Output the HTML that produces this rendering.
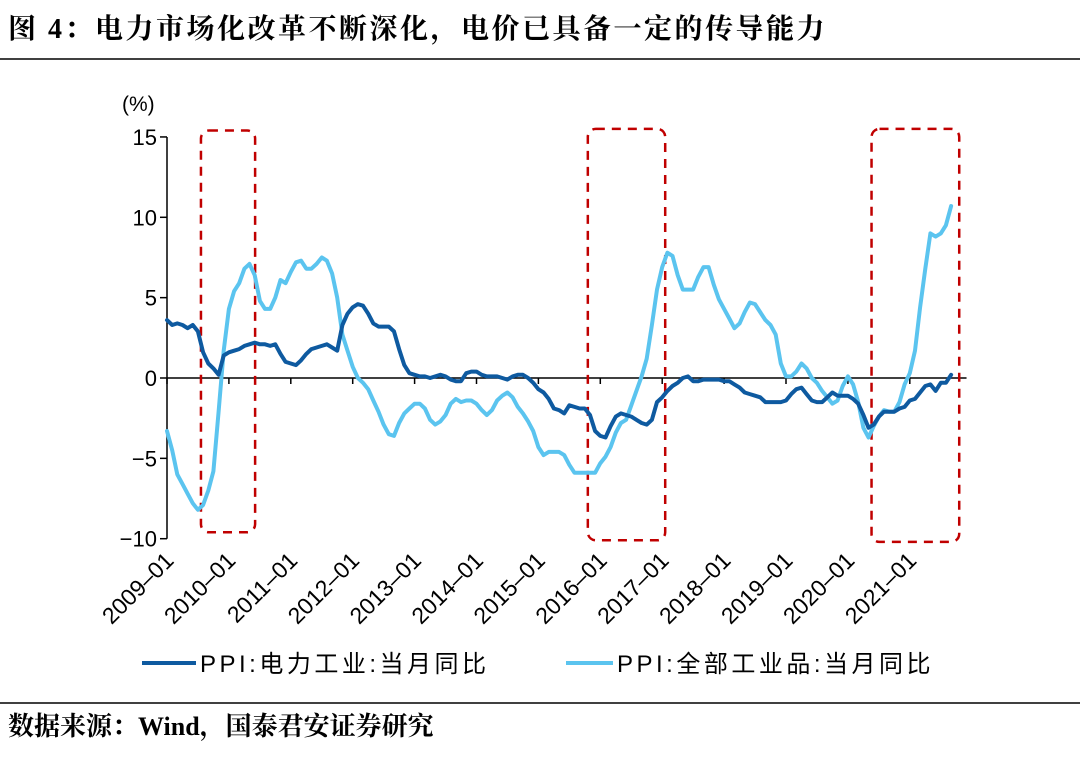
<!DOCTYPE html>
<html><head><meta charset="utf-8"><style>
body{margin:0;background:#fff;width:1080px;height:757px;overflow:hidden}
svg{display:block}
</style></head><body>
<svg id="chart" width="1080" height="757" xmlns="http://www.w3.org/2000/svg">
<text x="8" y="38" font-family="'Liberation Serif','Noto Serif CJK SC',serif" font-weight="bold" font-size="28" letter-spacing="2.5">图 4：电力市场化改革不断深化，电价已具备一定的传导能力</text>
<line x1="0" y1="59" x2="1080" y2="59" stroke="#000" stroke-width="1.5"/>
<text x="122" y="111" font-family="'Liberation Sans','Noto Sans CJK SC',sans-serif" font-size="21">(%)</text>
<g id="axes"></g>
<g id="boxes"></g>
<g id="series"></g>
<g>
<line x1="142" y1="663" x2="196" y2="663" stroke="#0e5aa0" stroke-width="4"/>
<text x="200" y="672" font-family="'Liberation Sans','Noto Sans CJK SC',sans-serif" font-size="24" letter-spacing="3.5">PPI:电力工业:当月同比</text>
<line x1="566" y1="663" x2="613" y2="663" stroke="#5bc4ef" stroke-width="4"/>
<text x="617" y="672" font-family="'Liberation Sans','Noto Sans CJK SC',sans-serif" font-size="24" letter-spacing="3.5">PPI:全部工业品:当月同比</text>
</g>
<line x1="0" y1="703" x2="1080" y2="703" stroke="#000" stroke-width="1.5"/>
<text x="8" y="735" font-family="'Liberation Serif','Noto Serif CJK SC',serif" font-weight="bold" font-size="26">数据来源：Wind，国泰君安证券研究</text>
</svg>
<script>
const yTicks=[15,10,5,0,-5,-10];
const xLabels=["2009-01","2010-01","2011-01","2012-01","2013-01","2014-01","2015-01","2016-01","2017-01","2018-01","2019-01","2020-01","2021-01"];
const powerPPI=[3.6,3.3,3.4,3.3,3.1,3.3,2.9,1.6,0.9,0.6,0.2,1.4,
1.6,1.7,1.8,2.0,2.1,2.2,2.1,2.1,2.0,2.1,1.5,1.0,
0.9,0.8,1.1,1.5,1.8,1.9,2.0,2.1,1.9,1.7,3.3,4.0,
4.4,4.6,4.5,4.0,3.4,3.2,3.2,3.2,2.9,1.8,0.8,0.3,
0.2,0.1,0.1,0.0,0.1,0.2,0.1,-0.1,-0.2,-0.2,0.3,0.4,
0.4,0.2,0.1,0.1,0.1,0.0,-0.1,0.1,0.2,0.2,0.0,-0.3,
-0.7,-0.9,-1.3,-1.9,-2.0,-2.2,-1.7,-1.8,-1.9,-1.9,-2.3,-3.3,
-3.6,-3.7,-3.0,-2.4,-2.2,-2.3,-2.4,-2.6,-2.8,-2.9,-2.6,-1.5,
-1.2,-0.8,-0.5,-0.3,0.0,0.1,-0.2,-0.2,-0.1,-0.1,-0.1,-0.1,
-0.2,-0.2,-0.4,-0.6,-0.9,-1.0,-1.1,-1.2,-1.5,-1.5,-1.5,-1.5,
-1.4,-1.0,-0.7,-0.6,-1.0,-1.4,-1.5,-1.5,-1.2,-0.9,-1.1,-1.1,
-1.1,-1.3,-1.6,-2.3,-3.1,-2.9,-2.4,-2.1,-2.1,-2.1,-1.9,-1.8,
-1.4,-1.3,-0.9,-0.5,-0.4,-0.8,-0.3,-0.3,0.2];
const allPPI=[-3.3,-4.5,-6.0,-6.6,-7.2,-7.8,-8.2,-7.9,-7.0,-5.8,-2.1,1.7,
4.3,5.4,5.9,6.8,7.1,6.4,4.8,4.3,4.3,5.0,6.1,5.9,
6.6,7.2,7.3,6.8,6.8,7.1,7.5,7.3,6.5,5.0,2.7,1.7,
0.7,0.0,-0.3,-0.7,-1.4,-2.1,-2.9,-3.5,-3.6,-2.8,-2.2,-1.9,
-1.6,-1.6,-1.9,-2.6,-2.9,-2.7,-2.3,-1.6,-1.3,-1.5,-1.4,-1.4,
-1.6,-2.0,-2.3,-2.0,-1.4,-1.1,-0.9,-1.2,-1.8,-2.2,-2.7,-3.3,
-4.3,-4.8,-4.6,-4.6,-4.6,-4.8,-5.4,-5.9,-5.9,-5.9,-5.9,-5.9,
-5.3,-4.9,-4.3,-3.4,-2.8,-2.6,-1.7,-0.8,0.1,1.2,3.3,5.5,
6.9,7.8,7.6,6.4,5.5,5.5,5.5,6.3,6.9,6.9,5.8,4.9,
4.3,3.7,3.1,3.4,4.1,4.7,4.6,4.1,3.6,3.3,2.7,0.9,
0.1,0.1,0.4,0.9,0.6,0.0,-0.3,-0.8,-1.2,-1.6,-1.4,-0.5,
0.1,-0.4,-1.5,-3.1,-3.7,-3.0,-2.4,-2.0,-2.1,-2.1,-1.5,-0.4,
0.3,1.7,4.4,6.8,9.0,8.8,9.0,9.5,10.7];
const boxMonthsStart=[6,81,136];
const boxMonthsEnd=[16.5,96,153];
const boxTop=[15.4,15.5,15.5];
const boxBottom=[-9.6,-10.1,-10.2];

const NS="http://www.w3.org/2000/svg";
const X0=167, MW=61.9/12;
function xs(i){return X0+i*MW;}
function ys(v){return 378-v*16.07;}
function mk(tag,attrs,parent){const e=document.createElementNS(NS,tag);for(const k in attrs)e.setAttribute(k,attrs[k]);parent.appendChild(e);return e;}
const axes=document.getElementById('axes');
const F="'Liberation Sans','Noto Sans CJK SC',sans-serif";
let ya=mk('line',{x1:X0,y1:ys(15),x2:X0,y2:ys(-10),stroke:'#000','stroke-width':1.5},axes);


yTicks.forEach(v=>{
  let t=mk('line',{x1:X0-7,y1:ys(v),x2:X0,y2:ys(v),stroke:'#000','stroke-width':1.5},axes);
  
  
  let l=mk('text',{x:X0-10,y:ys(v)+8,'text-anchor':'end','font-family':F,'font-size':22},axes);
  l.textContent=(v<0?'\u2212'+(-v):String(v));
  
  
});
let xa=mk('line',{x1:X0,y1:ys(0),x2:xs(155),y2:ys(0),stroke:'#000','stroke-width':1.5},axes);


xLabels.forEach((s,k)=>{
  const x=xs(k*12);
  let t=mk('line',{x1:x,y1:ys(0),x2:x,y2:ys(0)+6,stroke:'#000','stroke-width':1.5},axes);
  
  
  let l=mk('text',{x:x+8,y:562,'text-anchor':'end','font-family':F,'font-size':23,transform:`rotate(-45 ${x+8} 562)`},axes);
  l.textContent=s.replace('-','\u2013');
  
  
});
const boxes=document.getElementById('boxes');
boxMonthsStart.forEach((m,i)=>{
  const x1=xs(m)+3,x2=xs(boxMonthsEnd[i])+3,y1=ys(boxTop[i]),y2=ys(boxBottom[i]);
  let r=mk('rect',{x:x1,y:y1,width:x2-x1,height:y2-y1,rx:8,fill:'none',stroke:'#c00000','stroke-width':2.5,'stroke-dasharray':'9 7'},boxes);
  
  
});
const ser=document.getElementById('series');
function line(arr,color,name){
  const d=arr.map((v,i)=>(i?'L':'M')+xs(i).toFixed(1)+' '+ys(v).toFixed(1)).join(' ');
  let p=mk('path',{d:d,fill:'none',stroke:color,'stroke-width':4,'stroke-linejoin':'round','stroke-linecap':'round'},ser);
  
  
}
line(allPPI,'#5bc4ef','series-all-industrial');
line(powerPPI,'#0e5aa0','series-power-industry');
</script>
</body></html>
